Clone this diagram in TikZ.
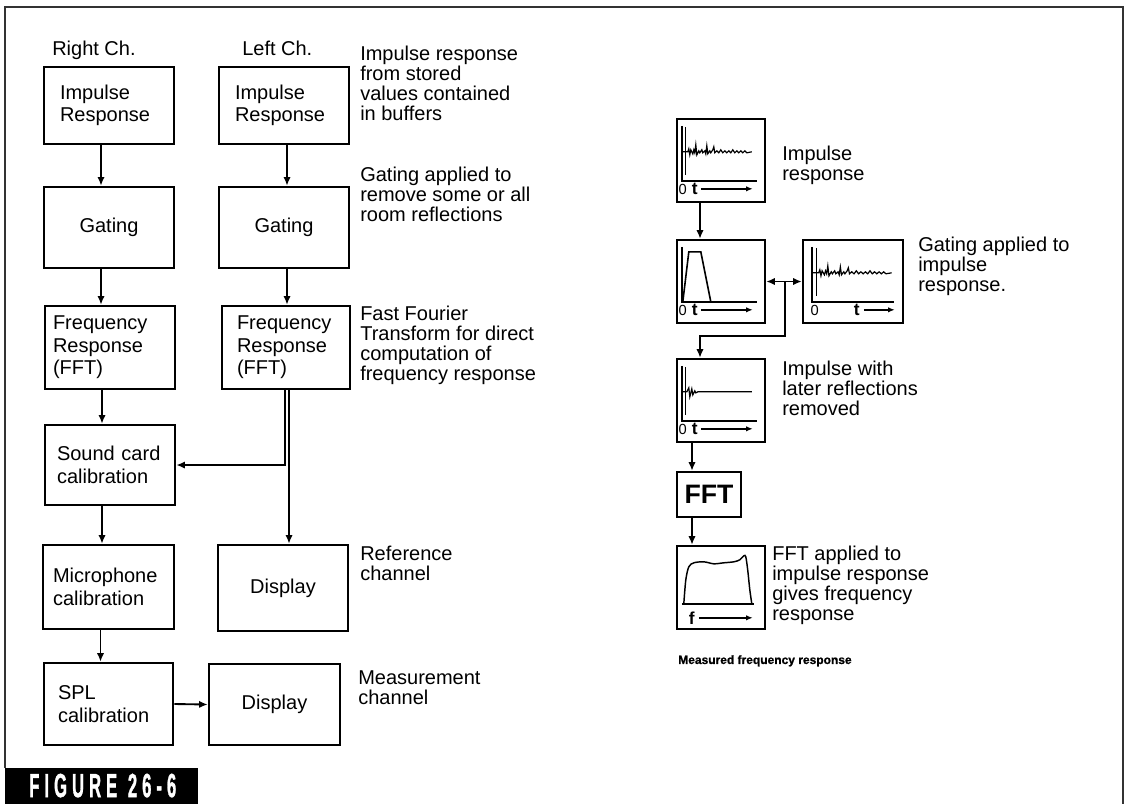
\documentclass[tikz,border=0pt]{standalone}
\usepackage{fontspec}
\usepackage{graphicx}
\setmainfont{Liberation Sans}
\usetikzlibrary{arrows.meta}

\newcommand\txt{\fontsize{15pt}{16.9pt}\selectfont}
\newcommand\note{\fontsize{15pt}{15pt}\selectfont}
% jagged trace of an impulse response with room reflections (panel units)
\newcommand\echopath{(6,34) -- (12,34) -- (13,31) -- (14,37) -- (15,32) -- (17,36) -- (18,32) -- (19,35) -- (20,27) -- (21,37) -- (23,33) -- (24,35) -- (26,32) -- (27,35) -- (29,33) -- (30,36) -- (31,28) -- (32,36) -- (34,33) -- (35,35) -- (37,32) -- (38,29) -- (39,35) -- (41,33) -- (43,35) -- (45,32) -- (47,35) -- (49,33) -- (51,35) -- (53,33) -- (55,35) -- (57,32) -- (59,35) -- (61,33) -- (63,35) -- (65,33) -- (67,35) -- (69,33) -- (71,35) -- (76,34)}

\begin{document}
\begin{tikzpicture}[x=0.75pt,y=-0.75pt,
  bx/.style={draw, line width=1.9pt, inner ysep=0pt, align=left, font=\txt},
  cbx/.style={bx, align=center},
  pl/.style={draw, line width=1.8pt, minimum width=66pt, minimum height=62.25pt, inner sep=0pt},
  arr/.style={line width=1.4pt, -{Latex[length=6.5pt,width=5.5pt]}},
  ann/.style={anchor=north west, inner sep=0pt, align=left, font=\note},
  ax/.style={line width=1.1pt},
  sig/.style={line width=0.9pt},
  zero/.style={inner sep=0pt, font=\fontsize{11pt}{11pt}\selectfont},
  tl/.style={inner sep=0pt, font=\bfseries\fontsize{13pt}{13pt}\selectfont},
  axarr/.style={line width=1.1pt, -{Latex[length=5pt,width=4pt]}}
]
\useasboundingbox (0,0) rectangle (1126,804);

% outer frame and figure tag
\draw[line width=1.5pt, black!80] (5,768) -- (5,7) -- (1123,7) -- (1123,804);
\fill[black] (5,768) rectangle (198,804);
\node[anchor=base west, inner sep=0pt, text=white,
      font=\bfseries\fontsize{25pt}{25pt}\selectfont\addfontfeatures{FakeBold=1.5}] (fig) at (29,797)
  {\scalebox{0.5}[1]{F\kern7.5pt I\kern7.5pt G\kern7.5pt U\kern7.5pt R\kern7.5pt E\kern16pt 2\kern7.5pt 6\kern7.5pt -\kern7.5pt 6}};

% channel headings
\node[ann] (hr) at (52,41) {Right Ch.};
\node[ann] (hl) at (242,41) {Left Ch.};

% right channel chain
\node[bx, minimum width=97.5pt, minimum height=57.75pt, inner xsep=12pt, text width=73.5pt] (r1) at (109,105.5) {Impulse\\Response};
\node[cbx, minimum width=97.5pt, minimum height=60.75pt] (r2) at (109,227.5) {Gating};
\node[bx, minimum width=97.5pt, minimum height=62.25pt, inner xsep=6pt, text width=85.5pt] (r3) at (110,347.5) {Frequency\\Response\\(FFT)};
\node[bx, minimum width=97.5pt, minimum height=60pt, inner xsep=9pt, text width=79.5pt] (r4) at (110,465) {Sound card\\calibration};
\node[bx, minimum width=98.25pt, minimum height=63pt, inner xsep=7.5pt, text width=83.25pt] (r5) at (108.5,587) {Microphone\\calibration};
\node[bx, minimum width=96.75pt, minimum height=61.5pt, inner xsep=10.5pt, text width=75.75pt] (r6) at (108.5,704) {SPL\\calibration};
\node[cbx, minimum width=98.25pt, minimum height=60.75pt] (md) at (274.5,704.5) {Display};

% left channel chain
\node[bx, minimum width=97.5pt, minimum height=57.75pt, inner xsep=12pt, text width=73.5pt] (l1) at (284,105.5) {Impulse\\Response};
\node[cbx, minimum width=97.5pt, minimum height=60.75pt] (l2) at (284,227.5) {Gating};
\node[bx, minimum width=96pt, minimum height=62.25pt, inner xsep=11.25pt, text width=73.5pt] (l3) at (286,347.5) {Frequency\\Response\\(FFT)};
\node[cbx, minimum width=97.5pt, minimum height=64.5pt] (ld) at (283,588) {Display};

% notes beside the left channel
\node[ann] (a1) at (360,46) {Impulse response\\from stored\\values contained\\in buffers};
\node[ann] (a2) at (360,167) {Gating applied to\\remove some or all\\room reflections};
\node[ann] (a3) at (360,306) {Fast Fourier\\Transform for direct\\computation of\\frequency response};
\node[ann] (a4) at (360,546) {Reference\\channel};
\node[ann] (a5) at (358,670) {Measurement\\channel};

% connectors, block diagram
\draw[arr] ([xshift=-6pt]r1.south) -- ([xshift=-6pt]r1.south |- r2.north);
\draw[arr] ([xshift=-6pt]r2.south) -- ([xshift=-6pt]r2.south |- r3.north);
\draw[arr] ([xshift=-6pt]r3.south) -- ([xshift=-6pt]r3.south |- r4.north);
\draw[arr] ([xshift=-6pt]r4.south) -- ([xshift=-6pt]r4.south |- r5.north);
\draw[arr] ([xshift=-6pt]r5.south) -- ([xshift=-6pt]r5.south |- r6.north);
\draw[arr] (r6.east) -- (md.west);
\draw[arr] ([xshift=2.25pt]l1.south) -- ([xshift=2.25pt]l1.south |- l2.north);
\draw[arr] ([xshift=2.25pt]l2.south) -- ([xshift=2.25pt]l2.south |- l3.north);
\draw[arr] ([xshift=-0.75pt]l3.south) |- (r4.east);
\draw[arr] ([xshift=2.25pt]l3.south) -- ([xshift=2.25pt]l3.south |- ld.north);

% measured frequency response panels
\node[pl] (p1) at (721,160.5) {};
\node[pl] (p2) at (721,281.5) {};
\node[pl, minimum width=75pt] (p3) at (853,281.5) {};
\node[pl] (p4) at (721,400.5) {};
\node[draw, line width=1.8pt, minimum width=48pt, minimum height=33.75pt, inner sep=0pt,
      font=\bfseries\fontsize{20pt}{20pt}\selectfont] (fft) at (709,494.5) {FFT};
\node[pl] (p5) at (721,587.5) {};

% panel 1: raw impulse response
\begin{scope}[shift={(p1.north west)}]
  \draw[ax] (6,8) -- (6,63) -- (81,63);
  \draw[sig] (10,9) -- (10,57);
  \draw[sig] \echopath;
  \node[zero] (z1) at (7,72) {0};
  \node[tl] (t1) at (19,71) {t};
  \draw[axarr] (25,71) -- (77,71);
\end{scope}

% panel 2: gate window
\begin{scope}[shift={(p2.north west)}]
  \draw[ax] (6,8) -- (6,63) -- (81,63);
  \draw[line width=1.2pt] (7,63) -- (13,13) -- (25,13) -- (35,63);
  \node[zero] (z2) at (7,72) {0};
  \node[tl] (t2) at (19,71) {t};
  \draw[axarr] (25,71) -- (77,71);
\end{scope}

% panel 3: impulse response to be gated
\begin{scope}[shift={(p3.north west)}]
  \draw[ax] (10,8) -- (10,63) -- (92,63);
  \node[zero] (z3) at (13,72) {0};
  \node[tl] (t3) at (55,71) {t};
  \draw[axarr] (62,71) -- (93,71);
  \begin{scope}[shift={(3.2,0)}, xscale=1.14]
    \draw[sig] (10,9) -- (10,57);
    \draw[sig] \echopath;
  \end{scope}
\end{scope}

% panel 4: gated impulse
\begin{scope}[shift={(p4.north west)}]
  \draw[ax] (6,8) -- (6,63) -- (81,63);
  \draw[sig] (10,9) -- (10,57);
  \draw[sig] (6,34) -- (11,34) -- (13,30) -- (14,39) -- (16,31) -- (17,37) -- (19,33) -- (20,35) -- (22,34) -- (76,34);
  \node[zero] (z4) at (7,72) {0};
  \node[tl] (t4) at (19,71) {t};
  \draw[axarr] (25,71) -- (77,71);
\end{scope}

% panel 5: resulting frequency response
\begin{scope}[shift={(p5.north west)}]
  \draw[ax] (6,59) -- (78,59);
  \draw[line width=1.1pt] plot[smooth, tension=0.5] coordinates {(8,59) (10,35) (13,22) (18,18) (28,17) (38,19) (48,18) (58,17) (64,15) (68,11) (70,12) (72,26) (74,45) (76,59)};
  \node[tl] (f5) at (16,73) {f};
  \draw[axarr] (23,73) -- (77,73);
\end{scope}

% notes beside the panels
\node[ann] (b1) at (782,146) {Impulse\\response};
\node[ann] (b2) at (918,237) {Gating applied to\\impulse\\response.};
\node[ann] (b3) at (782,361) {Impulse with\\later reflections\\removed};
\node[ann] (b4) at (772,546) {FFT applied to\\impulse response\\gives frequency\\response};
\node[anchor=north west, inner sep=0pt, font=\bfseries\fontsize{9pt}{10pt}\selectfont\addfontfeatures{FakeBold=1}] (cap) at (678,655) {Measured frequency response};

% connectors, panels
\draw[arr] ([xshift=-15.75pt]p1.south) -- ([xshift=-15.75pt]p1.south |- p2.north);
\draw[line width=1.4pt, {Latex[length=6.5pt,width=5.5pt]}-{Latex[length=6.5pt,width=5.5pt]}] (p2.east) -- (p3.west);
\coordinate (j) at (785,281.5);
\draw[arr] (j) -- (785,336) -| ([xshift=-15.75pt]p4.north);
\draw[arr] ([xshift=-21.75pt]p4.south) -- ([xshift=-21.75pt]p4.south |- fft.north);
\draw[arr] ([xshift=-21.75pt]p4.south |- fft.south) -- ([xshift=-21.75pt]p4.south |- p5.north);
\end{tikzpicture}
\end{document}
